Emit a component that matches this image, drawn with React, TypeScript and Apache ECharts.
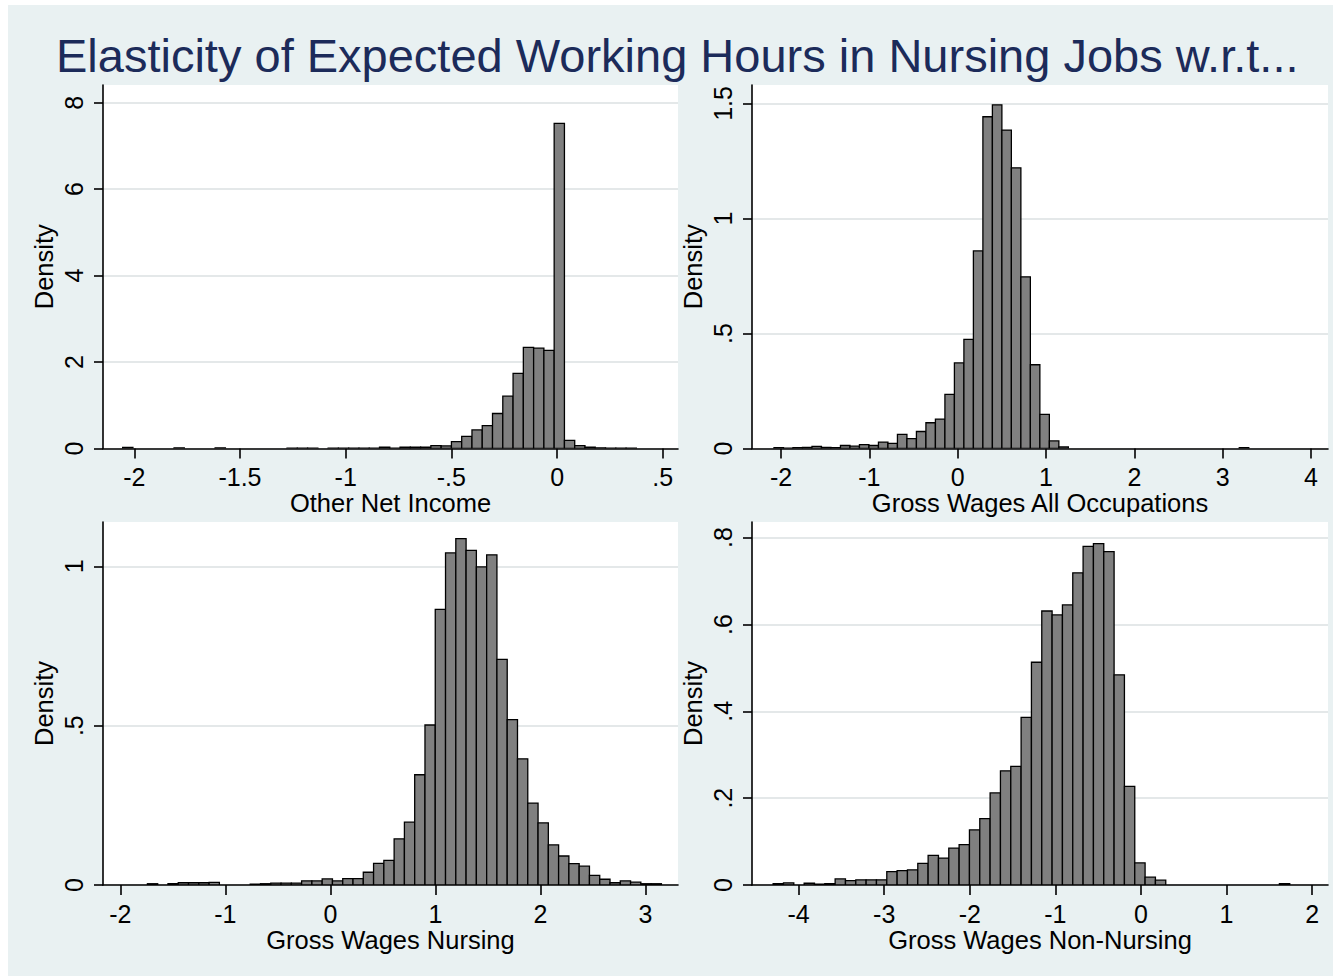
import React, { useEffect, useRef } from 'react';
import * as echarts from 'echarts';

const FONT = "'Liberation Sans', Arial, sans-serif";

const chartTitle = 'Elasticity of Expected Working Hours in Nursing Jobs w.r.t...';
const panelNames = ['Other Net Income', 'Gross Wages All Occupations', 'Gross Wages Nursing', 'Gross Wages Non-Nursing'];
const yAxisName = 'Density';

// histogram bins: first edge and bin width of each panel (50 bins each)
const binStarts = [-2.055, -2.08, -1.742, -4.297];
const binWidths = [0.0486, 0.1075, 0.0979, 0.1207];

const incomeHeights = [
  0.025, 0, 0, 0, 0, 0.015, 0, 0, 0, 0.015,
  0, 0, 0, 0, 0, 0, 0.01, 0.01, 0.01, 0,
  0.01, 0.01, 0.01, 0.01, 0.01, 0.03, 0.01, 0.03, 0.03, 0.03,
  0.065, 0.06, 0.16, 0.28, 0.43, 0.53, 0.81, 1.21, 1.74, 2.34,
  2.32, 2.27, 7.52, 0.19, 0.065, 0.03, 0.015, 0.01, 0.01, 0.008,
];
const allOccHeights = [
  0.004, 0.002, 0.004, 0.005, 0.009, 0.005, 0.004, 0.013, 0.01, 0.017,
  0.013, 0.028, 0.022, 0.061, 0.043, 0.074, 0.112, 0.128, 0.235, 0.372,
  0.474, 0.859, 1.442, 1.494, 1.384, 1.22, 0.746, 0.364, 0.148, 0.033,
  0.007, 0, 0, 0, 0, 0, 0, 0, 0, 0,
  0, 0, 0, 0, 0, 0, 0, 0, 0, 0.004,
];
const nursingHeights = [
  0.004, 0, 0.004, 0.007, 0.007, 0.007, 0.008, 0, 0, 0,
  0.003, 0.004, 0.006, 0.006, 0.006, 0.013, 0.013, 0.019, 0.013, 0.02,
  0.02, 0.04, 0.068, 0.077, 0.145, 0.197, 0.346, 0.502, 0.865, 1.042,
  1.087, 1.05, 0.998, 1.036, 0.708, 0.519, 0.396, 0.257, 0.195, 0.126,
  0.091, 0.067, 0.059, 0.03, 0.018, 0.007, 0.013, 0.009, 0.004, 0.004,
];
const nonNursingHeights = [
  0.003, 0.005, 0, 0.004, 0.002, 0.003, 0.014, 0.01, 0.012, 0.012,
  0.012, 0.031, 0.033, 0.035, 0.05, 0.068, 0.062, 0.085, 0.093, 0.127,
  0.153, 0.212, 0.263, 0.273, 0.386, 0.513, 0.631, 0.622, 0.645, 0.719,
  0.78, 0.786, 0.768, 0.484, 0.227, 0.051, 0.018, 0.011, 0, 0,
  0, 0, 0, 0, 0, 0, 0, 0, 0, 0.003,
];

const xTicks = [
  [-2, -1.5, -1, -0.5, 0, 0.5],
  [-2, -1, 0, 1, 2, 3, 4],
  [-2, -1, 0, 1, 2, 3],
  [-4, -3, -2, -1, 0, 1, 2],
];
const yTicks = [
  [0, 2, 4, 6, 8],
  [0, 0.5, 1, 1.5],
  [0, 0.5, 1],
  [0, 0.2, 0.4, 0.6, 0.8],
];
const xRanges = [
  [-2.148, 0.572],
  [-2.329, 4.192],
  [-2.165, 3.311],
  [-4.544, 2.185],
];
const yMaxes = [8.41, 1.58, 1.139, 0.836];

const heightsList = [incomeHeights, allOccHeights, nursingHeights, nonNursingHeights];

const grids = [
  { left: 95, top: 80, width: 575, height: 363.5 },
  { left: 744, top: 80, width: 576, height: 363.5 },
  { left: 95, top: 517, width: 575, height: 363 },
  { left: 744, top: 517, width: 576, height: 363 },
];

function stataFmt(v: number): string {
  const s = String(Math.round(v * 1000) / 1000);
  return s.replace(/^0\./, '.').replace(/^-0\./, '-.');
}

function buildOption() {
  const xAxis: any[] = [];
  const yAxis: any[] = [];
  const series: any[] = [];
  for (let i = 0; i < 4; i++) {
    xAxis.push({
      type: 'value',
      gridIndex: i,
      min: xRanges[i][0],
      max: xRanges[i][1],
      name: panelNames[i],
      nameLocation: 'middle',
      nameGap: 41,
      nameTextStyle: { fontSize: 25.5, color: '#000', fontFamily: FONT },
      axisLine: { show: true, onZero: false, lineStyle: { color: '#000', width: 1.6 } },
      axisTick: { show: true, length: 10, customValues: xTicks[i], lineStyle: { color: '#000', width: 1.6 } },
      axisLabel: {
        customValues: xTicks[i],
        formatter: (v: number) => stataFmt(v),
        fontSize: 25,
        color: '#000',
        fontFamily: FONT,
        margin: 16,
        showMinLabel: true,
        showMaxLabel: true,
      },
      splitLine: { show: false },
    });
    yAxis.push({
      type: 'value',
      gridIndex: i,
      min: 0,
      max: yMaxes[i],
      name: yAxisName,
      nameLocation: 'middle',
      nameRotate: 90,
      nameGap: 46,
      nameTextStyle: { fontSize: 25.5, color: '#000', fontFamily: FONT },
      axisLine: { show: true, onZero: false, lineStyle: { color: '#000', width: 1.6 } },
      axisTick: { show: true, length: 9, customValues: yTicks[i], lineStyle: { color: '#000', width: 1.6 } },
      axisLabel: {
        customValues: yTicks[i],
        formatter: (v: number) => stataFmt(v),
        rotate: 90,
        fontSize: 25,
        color: '#000',
        fontFamily: FONT,
        margin: 17,
      },
      splitLine: { show: true, lineStyle: { color: '#E4E8E9', width: 2 } },
    });
    const start = binStarts[i];
    const w = binWidths[i];
    const data = heightsList[i].map((h, k) => [start + k * w, start + (k + 1) * w, h]);
    series.push({
      type: 'custom',
      xAxisIndex: i,
      yAxisIndex: i,
      clip: true,
      encode: { x: [0, 1], y: 2 },
      data,
      renderItem: (params: any, api: any) => {
        const h = api.value(2);
        if (!(h > 0)) return null;
        const p0 = api.coord([api.value(0), h]);
        const p1 = api.coord([api.value(1), 0]);
        return {
          type: 'rect',
          shape: { x: p0[0], y: p0[1], width: p1[0] - p0[0], height: p1[1] - p0[1] },
          style: { fill: '#808080', stroke: '#000', lineWidth: 1.3 },
        };
      },
      z: 3,
    });
  }
  return {
    animation: false,
    backgroundColor: '#E9F1F2',
    title: {
      text: chartTitle,
      left: 48,
      top: 27,
      padding: 0,
      textStyle: { fontSize: 47, fontWeight: 'normal', color: '#1C2B5A', fontFamily: FONT },
    },
    grid: grids.map((g) => ({ ...g, show: true, backgroundColor: '#FFFFFF', borderWidth: 0, containLabel: false })),
    xAxis,
    yAxis,
    series,
  };
}

export default function App() {
  const ref = useRef<HTMLDivElement>(null);
  useEffect(() => {
    if (!ref.current) return;
    const chart = echarts.init(ref.current, undefined, { renderer: 'svg' });
    chart.setOption(buildOption() as any);
    return () => chart.dispose();
  }, []);
  return (
    <div
      ref={ref}
      style={{ position: 'absolute', left: 8, top: 5, width: 1325, height: 971 }}
    />
  );
}
